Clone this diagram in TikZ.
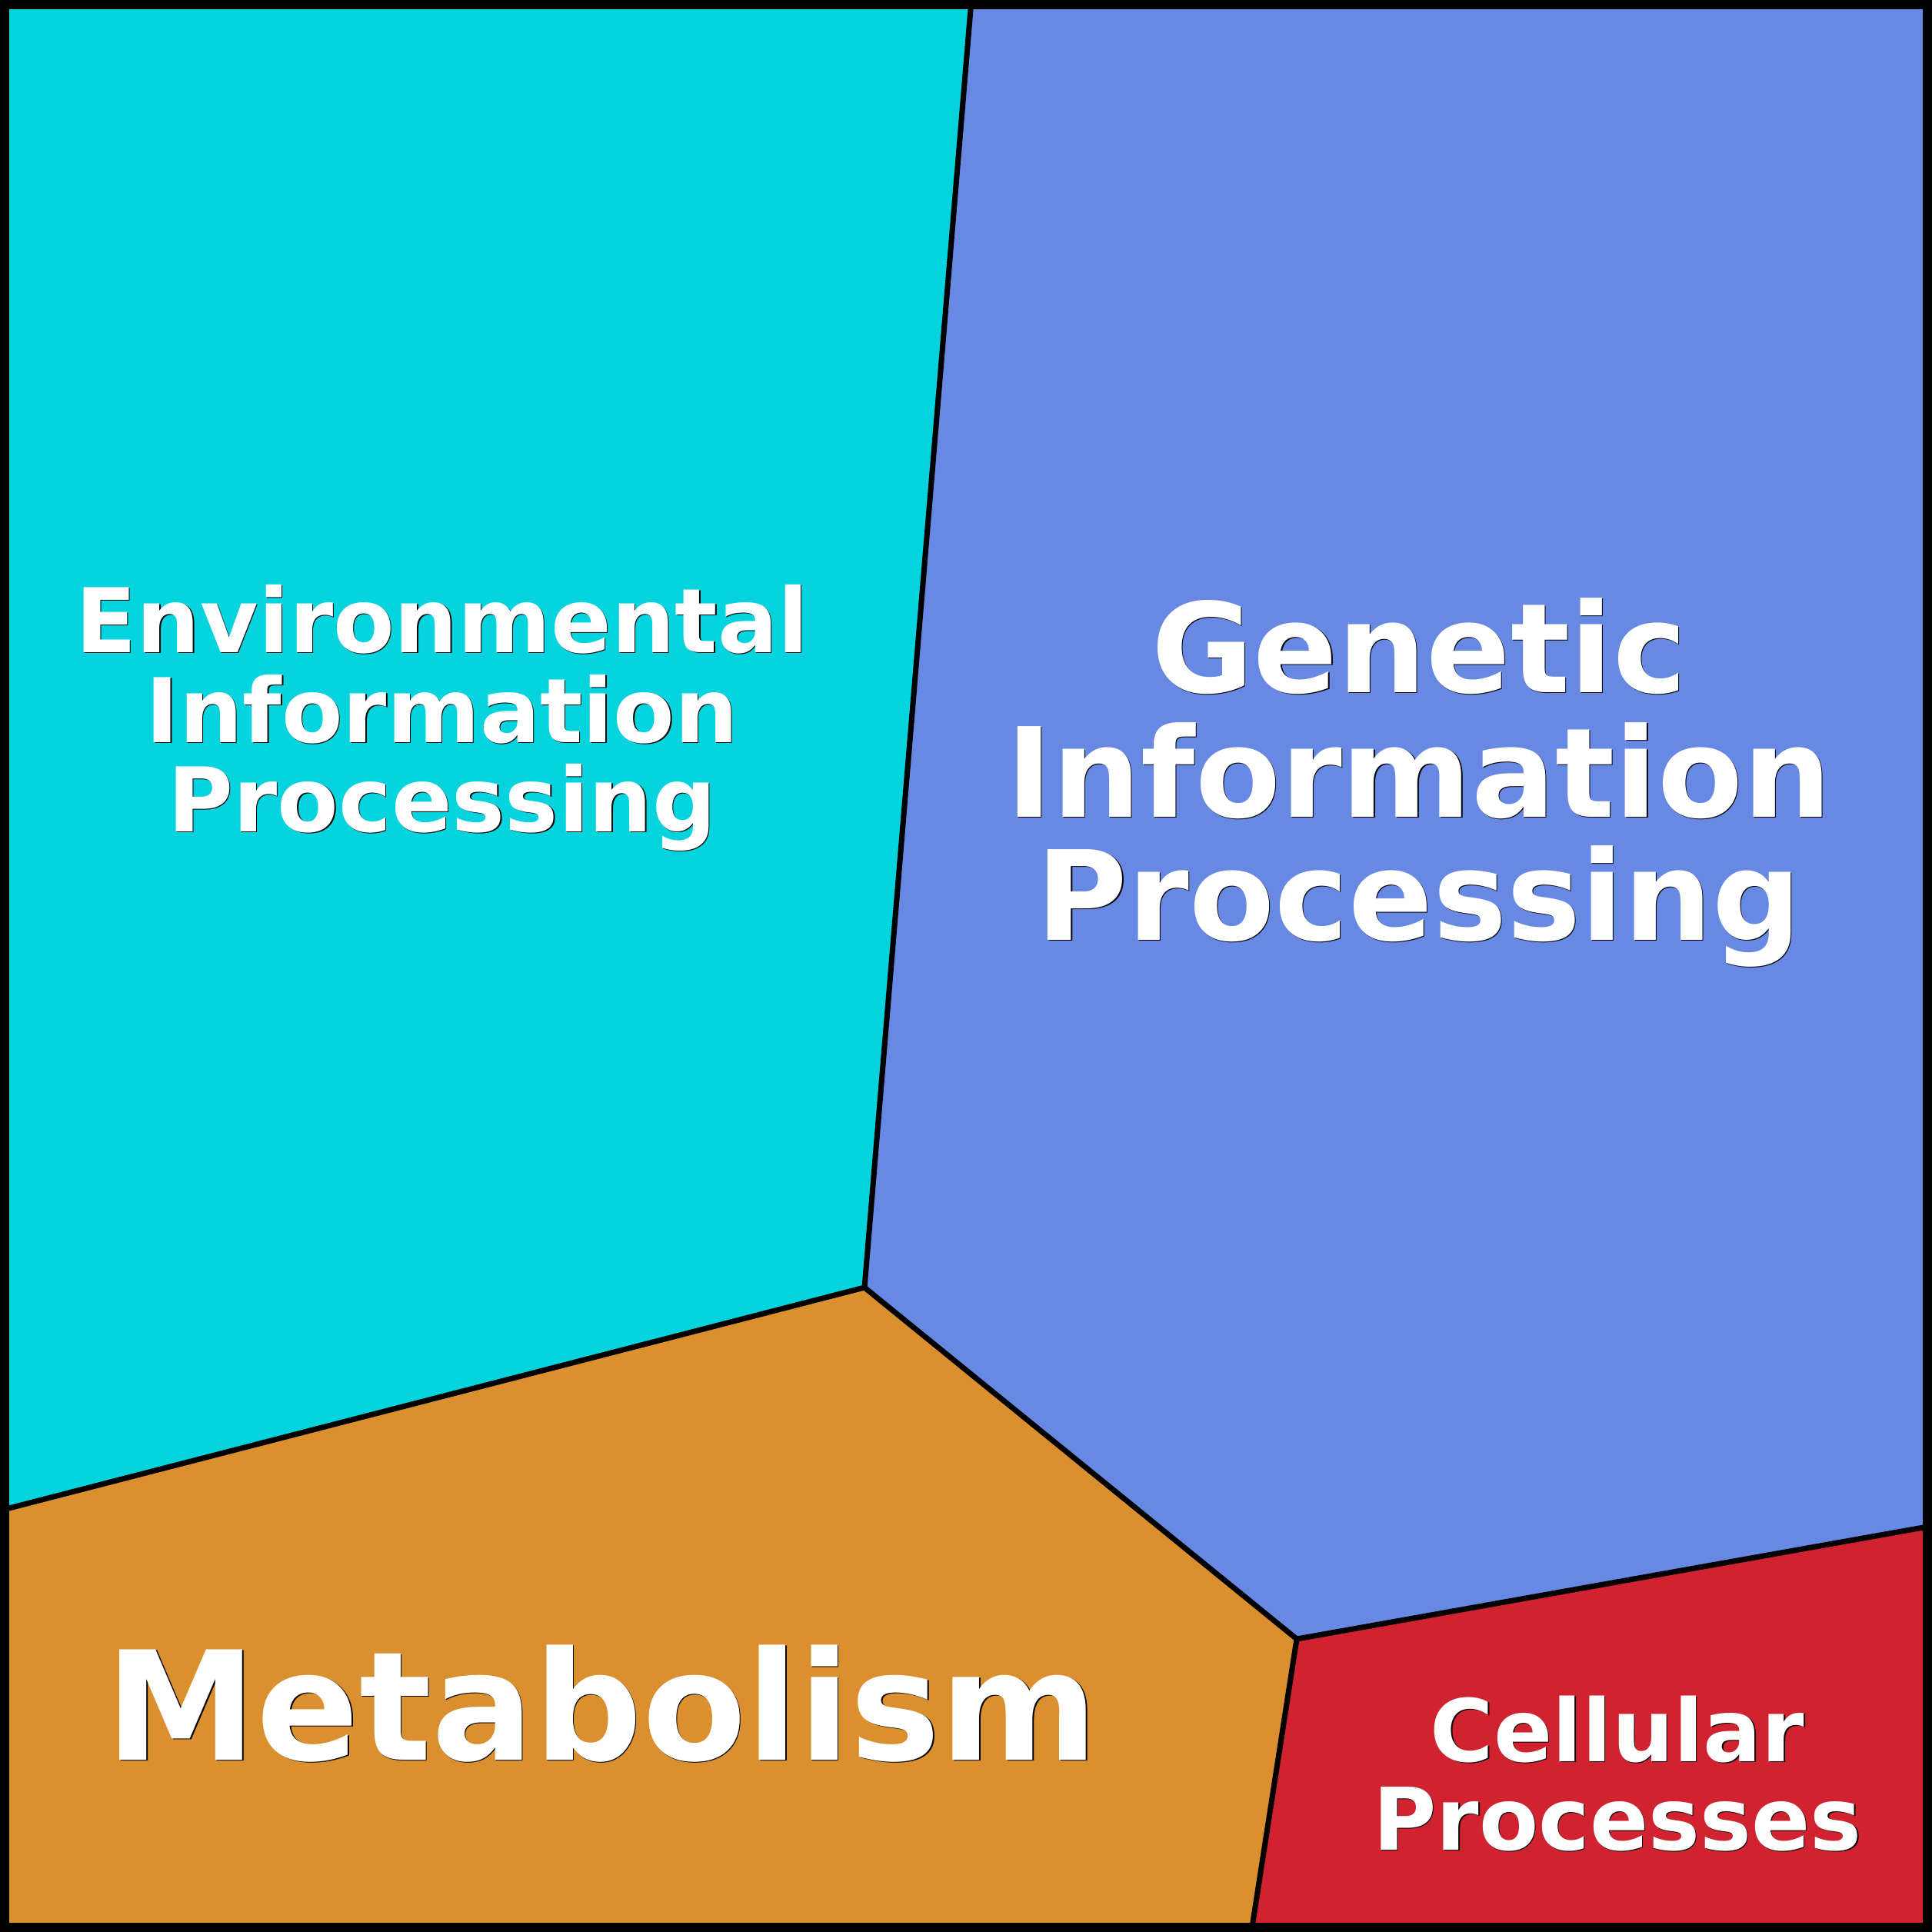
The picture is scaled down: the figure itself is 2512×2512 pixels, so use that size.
\documentclass[tikz,border=0pt]{standalone}
\usepackage{fontspec}
\setmainfont{DejaVu Sans}
\definecolor{envc}{HTML}{05D4DF}
\definecolor{genc}{HTML}{6789E4}
\definecolor{metc}{HTML}{DB9030}
\definecolor{celc}{HTML}{D12230}
\tikzset{
  lbl/.style={anchor=base, inner sep=0pt, font=\bfseries\fontsize{#1}{#1}\selectfont, text=white},
  lblsh/.style={anchor=base, inner sep=0pt, font=\bfseries\fontsize{#1}{#1}\selectfont, text=black},
  edge/.style={line width=2pt, line join=round},
}
\begin{document}
\begin{tikzpicture}[x=0.01cm,y=-0.01cm]
\useasboundingbox (0,0) rectangle (2512,2512);
% regions
\coordinate (tl) at (0,0);
\coordinate (tr) at (2512,0);
\coordinate (br) at (2512,2512);
\coordinate (bl) at (0,2512);
\coordinate (a) at (1263,0);
\coordinate (b) at (1124,1674);
\coordinate (c) at (0,1964);
\coordinate (d) at (1686,2131);
\coordinate (e) at (2512,1984);
\coordinate (f) at (1627,2512);
\fill[envc] (tl) -- (a) -- (b) -- (c) -- cycle;
\fill[genc] (a) -- (tr) -- (e) -- (d) -- (b) -- cycle;
\fill[metc] (c) -- (b) -- (d) -- (f) -- (bl) -- cycle;
\fill[celc] (d) -- (e) -- (br) -- (f) -- cycle;
\draw[edge] (a) -- (b) -- (c);
\draw[edge] (b) -- (d) -- (e);
\draw[edge] (d) -- (f);
\draw[line width=3.4pt] (6,6) rectangle (2506,2506);
% labels: thin dark shadow then white
\foreach \t/\x/\y/\s in {Environmental/575/848/33, Information/575/965/33, Processing/575/1081/33,
  Genetic/1845/900/46, Information/1845/1062/46, Processing/1845/1222/46,
  Metabolism/783/2288/56,
  Cellular/2103/2290/32, Processes/2103/2405/32}{
  \node[lblsh=\s] at (\x+1.3,\y+1.3) {\t};
}
\node[lbl=33] (env1) at (575,848) {Environmental};
\node[lbl=33] (env2) at (575,965) {Information};
\node[lbl=33] (env3) at (575,1081) {Processing};
\node[lbl=46] (gen1) at (1845,900) {Genetic};
\node[lbl=46] (gen2) at (1845,1062) {Information};
\node[lbl=46] (gen3) at (1845,1222) {Processing};
\node[lbl=56] (met) at (783,2288) {Metabolism};
\node[lbl=32] (cel1) at (2103,2290) {Cellular};
\node[lbl=32] (cel2) at (2103,2405) {Processes};
\end{tikzpicture}
\end{document}
